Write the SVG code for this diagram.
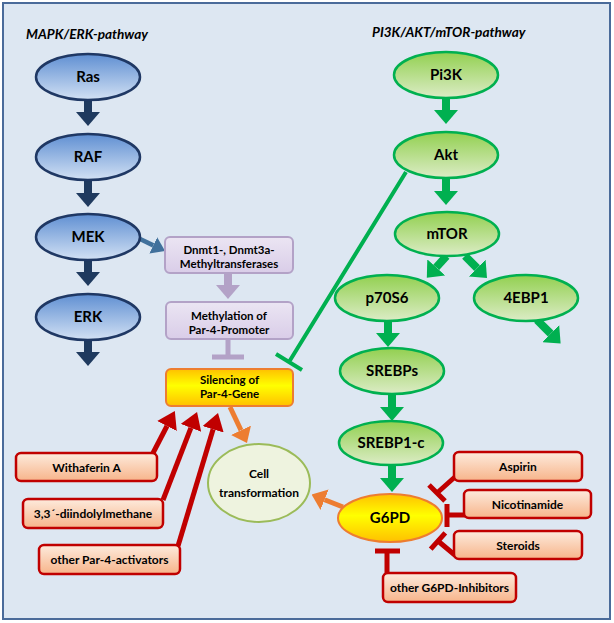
<svg xmlns="http://www.w3.org/2000/svg" width="614" height="623" viewBox="0 0 614 623">
<style>
.n{font-family:Lato,"Liberation Sans",sans-serif;font-weight:bold;font-size:15px;text-anchor:middle;fill:#000}
.b{font-family:Lato,"Liberation Sans",sans-serif;font-weight:bold;font-size:12px;text-anchor:middle;fill:#000}
.b2{font-family:Lato,"Liberation Sans",sans-serif;font-weight:bold;font-size:11.5px;text-anchor:middle;fill:#000}
.ttl{font-family:Lato,"Liberation Sans",sans-serif;font-weight:bold;font-style:italic;font-size:13.6px;fill:#000}
.blue{fill:url(#gBlue);stroke:#1f3864;stroke-width:2.5}
.green{fill:url(#gGreen);stroke:#00b050;stroke-width:2.5}
.lav{fill:url(#gLav);stroke:#b3a2c7;stroke-width:2}
.red{fill:url(#gRed);stroke:#c00000;stroke-width:2.5}
.yel{fill:url(#gYel);stroke:#ed7d31;stroke-width:2}
.cn{fill:none;stroke-linecap:butt}
</style>
<defs>
<linearGradient id="gBlue" x1="0" y1="0" x2="0" y2="1"><stop offset="0" stop-color="#5f8fd2"/><stop offset="1" stop-color="#d2e1f4"/></linearGradient>
<linearGradient id="gGreen" x1="0" y1="0" x2="0" y2="1"><stop offset="0" stop-color="#92d050"/><stop offset="1" stop-color="#dcecc6"/></linearGradient>
<linearGradient id="gLav" x1="0" y1="0" x2="0" y2="1"><stop offset="0" stop-color="#ebe5f3"/><stop offset="1" stop-color="#d9cde8"/></linearGradient>
<linearGradient id="gRed" x1="0" y1="0" x2="0" y2="1"><stop offset="0" stop-color="#fdebdd"/><stop offset="1" stop-color="#f7b48a"/></linearGradient>
<linearGradient id="gYel" x1="0" y1="0" x2="0" y2="1"><stop offset="0" stop-color="#ffc000"/><stop offset="0.45" stop-color="#ffff00"/><stop offset="1" stop-color="#ffc000"/></linearGradient>
<marker id="mNavy" viewBox="0 0 14 24" refX="0" refY="12" markerWidth="14" markerHeight="24" markerUnits="userSpaceOnUse" orient="auto"><path d="M0,0L14,12L0,24z" fill="#1f3a5f"/></marker>
<marker id="mGreen" viewBox="0 0 14 24" refX="0" refY="12" markerWidth="14" markerHeight="24" markerUnits="userSpaceOnUse" orient="auto"><path d="M0,0L14,12L0,24z" fill="#00b050"/></marker>
<marker id="mLav" viewBox="0 0 14 24" refX="0" refY="12" markerWidth="14" markerHeight="24" markerUnits="userSpaceOnUse" orient="auto"><path d="M0,0L14,12L0,24z" fill="#b3a2c7"/></marker>
<marker id="mSteel" viewBox="0 0 13 18" refX="0" refY="9" markerWidth="13" markerHeight="18" markerUnits="userSpaceOnUse" orient="auto"><path d="M0,0L13,9L0,18z" fill="#41719c"/></marker>
<marker id="mOrange" viewBox="0 0 14 22" refX="0" refY="11" markerWidth="14" markerHeight="22" markerUnits="userSpaceOnUse" orient="auto"><path d="M0,0L14,11L0,22z" fill="#ed7d31"/></marker>
<marker id="mRed" viewBox="0 0 17 22" refX="0" refY="11" markerWidth="17" markerHeight="22" markerUnits="userSpaceOnUse" orient="auto"><path d="M0,0L17,11L0,22z" fill="#c00000"/></marker>
</defs>

<rect x="3" y="3" width="607" height="616" fill="#dde7f2" stroke="#4a6b9a" stroke-width="2"/>

<text class="ttl" x="26" y="39">MAPK/ERK-pathway</text>
<text class="ttl" x="372" y="37">PI3K/AKT/mTOR-pathway</text>

<g id="connectors">
  <path class="cn" d="M88,100V112" stroke="#1f3a5f" stroke-width="8" marker-end="url(#mNavy)"/>
  <path class="cn" d="M88,180V193" stroke="#1f3a5f" stroke-width="8" marker-end="url(#mNavy)"/>
  <path class="cn" d="M88,260V272" stroke="#1f3a5f" stroke-width="8" marker-end="url(#mNavy)"/>
  <path class="cn" d="M88,340V352" stroke="#1f3a5f" stroke-width="8" marker-end="url(#mNavy)"/>
  <path class="cn" d="M138,238L153.3,245.4" stroke="#41719c" stroke-width="4.5" marker-end="url(#mSteel)"/>
  <path class="cn" d="M228,273V285" stroke="#b3a2c7" stroke-width="8" marker-end="url(#mLav)"/>
  <path class="cn" d="M228,339V357M212,357H244" stroke="#b3a2c7" stroke-width="5"/>
  <path class="cn" d="M406,172L289,362M276,354L302,370" stroke="#00b050" stroke-width="4"/>
  <path class="cn" d="M446,98V110" stroke="#00b050" stroke-width="8" marker-end="url(#mGreen)"/>
  <path class="cn" d="M446,178V191" stroke="#00b050" stroke-width="8" marker-end="url(#mGreen)"/>
  <path class="cn" d="M446.5,256L436.2,267.4" stroke="#00b050" stroke-width="8" marker-end="url(#mGreen)"/>
  <path class="cn" d="M465,256L477.1,268.1" stroke="#00b050" stroke-width="8" marker-end="url(#mGreen)"/>
  <path class="cn" d="M537,320L550.7,333.6" stroke="#00b050" stroke-width="8" marker-end="url(#mGreen)"/>
  <path class="cn" d="M388,321V333" stroke="#00b050" stroke-width="8" marker-end="url(#mGreen)"/>
  <path class="cn" d="M392,394V407" stroke="#00b050" stroke-width="8" marker-end="url(#mGreen)"/>
  <path class="cn" d="M392,466V478" stroke="#00b050" stroke-width="8" marker-end="url(#mGreen)"/>
  <path class="cn" d="M230,407L241,430.3" stroke="#ed7d31" stroke-width="5" marker-end="url(#mOrange)"/>
  <path class="cn" d="M343,507L324.6,499.7" stroke="#ed7d31" stroke-width="5" marker-end="url(#mOrange)"/>
  <path class="cn" d="M153,453L167,426" stroke="#c00000" stroke-width="5" marker-end="url(#mRed)"/>
  <path class="cn" d="M163,500L190.9,427.9" stroke="#c00000" stroke-width="5" marker-end="url(#mRed)"/>
  <path class="cn" d="M178,546L213.1,429.3" stroke="#c00000" stroke-width="5" marker-end="url(#mRed)"/>
  <path class="cn" d="M456,476L437,493M429,485L445,501" stroke="#c00000" stroke-width="5"/>
  <path class="cn" d="M465,515H447M447,504V527" stroke="#c00000" stroke-width="5"/>
  <path class="cn" d="M456,556L438,541M430.7,549.2L445.3,532.8" stroke="#c00000" stroke-width="5"/>
  <path class="cn" d="M387,574V551M375,551H400" stroke="#c00000" stroke-width="5"/>
</g>

<g id="ras"><ellipse class="blue" cx="88" cy="77" rx="52" ry="23"/><text class="n" x="88" y="82">Ras</text></g>
<g id="raf"><ellipse class="blue" cx="88" cy="157" rx="52" ry="23"/><text class="n" x="88" y="162">RAF</text></g>
<g id="mek"><ellipse class="blue" cx="88" cy="237" rx="52" ry="23"/><text class="n" x="88" y="242">MEK</text></g>
<g id="erk"><ellipse class="blue" cx="88" cy="317" rx="52" ry="23"/><text class="n" x="88" y="322">ERK</text></g>

<g id="dnmt"><rect class="lav" x="165" y="237" width="128" height="36" rx="5"/><text class="b2" x="229" y="253.5">Dnmt1-, Dnmt3a-</text><text class="b2" x="229" y="267.5">Methyltransferases</text></g>
<g id="methylation"><rect class="lav" x="166" y="302" width="127" height="37" rx="5"/><text class="b2" x="229" y="319.5">Methylation of</text><text class="b2" x="229" y="333.5">Par-4-Promoter</text></g>
<g id="silencing"><rect class="yel" x="166" y="369" width="127" height="37" rx="5"/><text class="b2" x="229.5" y="384">Silencing of</text><text class="b2" x="229.5" y="398">Par-4-Gene</text></g>

<g id="cell"><ellipse cx="259" cy="483" rx="51" ry="39" fill="#eef3df" stroke="#9bbb59" stroke-width="2"/><text class="b" x="259" y="478">Cell</text><text class="b" x="259" y="497">transformation</text></g>

<g id="withaferin"><rect class="red" x="16" y="453" width="141" height="28" rx="5"/><text class="b" x="86.5" y="472">Withaferin A</text></g>
<g id="diindolylmethane"><rect class="red" x="23" y="499" width="140" height="29" rx="5"/><text class="b" x="93" y="518">3,3´-diindolylmethane</text></g>
<g id="par4act"><rect class="red" x="39" y="545" width="141" height="29" rx="5"/><text class="b" x="109.5" y="564">other Par-4-activators</text></g>

<g id="pi3k"><ellipse class="green" cx="446" cy="75" rx="52" ry="23"/><text class="n" x="446" y="80">Pi3K</text></g>
<g id="akt"><ellipse class="green" cx="446" cy="155" rx="52" ry="23"/><text class="n" x="446" y="160">Akt</text></g>
<g id="mtor"><ellipse class="green" cx="447" cy="234" rx="52" ry="22"/><text class="n" x="447" y="239">mTOR</text></g>
<g id="p70s6"><ellipse class="green" cx="387" cy="298" rx="52" ry="23"/><text class="n" x="387" y="303">p70S6</text></g>
<g id="4ebp1"><ellipse class="green" cx="526" cy="298" rx="52" ry="23"/><text class="n" x="526" y="303">4EBP1</text></g>
<g id="srebps"><ellipse class="green" cx="392" cy="371" rx="52" ry="23"/><text class="n" x="392" y="376">SREBPs</text></g>
<g id="srebp1c"><ellipse class="green" cx="391" cy="443" rx="52" ry="22"/><text class="n" x="391" y="448">SREBP1-c</text></g>
<g id="g6pd"><ellipse class="yel" cx="390" cy="518" rx="52" ry="24"/><text class="n" x="390" y="523">G6PD</text></g>

<g id="aspirin"><rect class="red" x="454" y="452" width="128" height="29" rx="5"/><text class="b" x="518" y="471">Aspirin</text></g>
<g id="nicotinamide"><rect class="red" x="464" y="490" width="127" height="28" rx="5"/><text class="b" x="527.5" y="509">Nicotinamide</text></g>
<g id="steroids"><rect class="red" x="454" y="531" width="128" height="28" rx="5"/><text class="b" x="518" y="550">Steroids</text></g>
<g id="g6pdinh"><rect class="red" x="383" y="573" width="133" height="29" rx="5"/><text class="b" x="449.5" y="592">other G6PD-Inhibitors</text></g>
</svg>
